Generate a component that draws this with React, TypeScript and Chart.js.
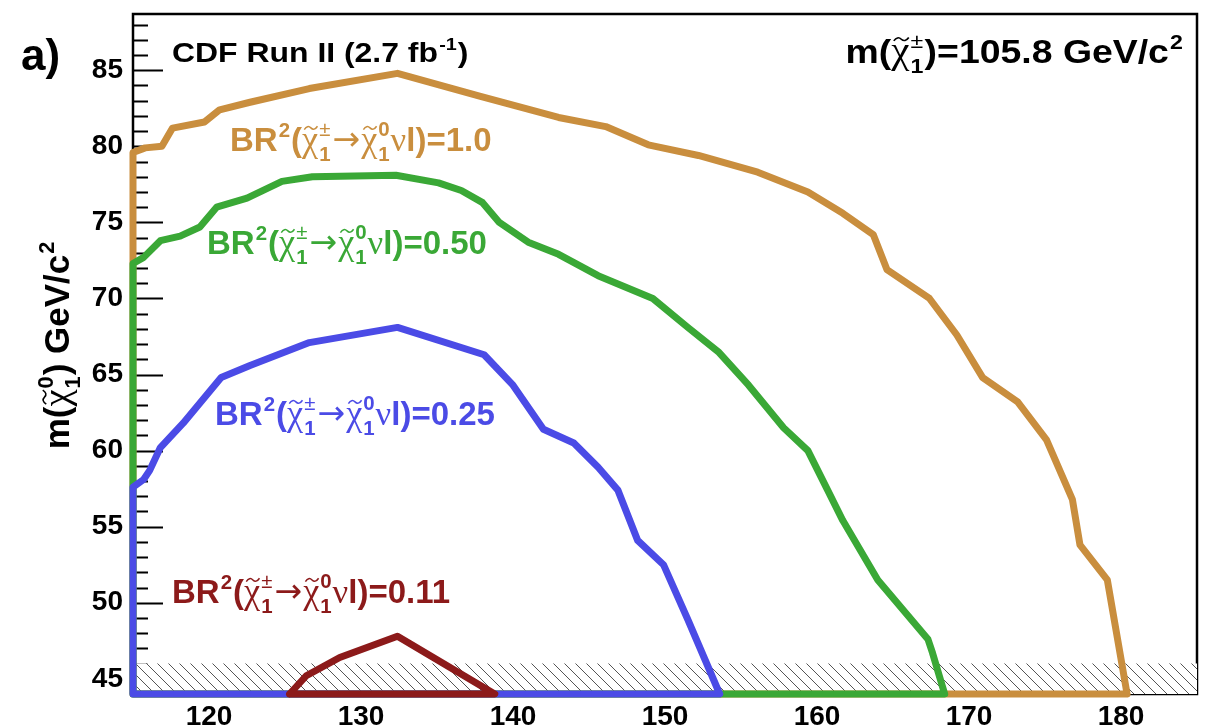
import React, { useEffect, useRef } from 'react';
import { Chart, registerables } from 'chart.js';

Chart.register(...registerables);

// ---- axis ranges and ticks ----
const X_MIN = 115;
const X_MAX = 185;
const Y_MIN = 44;
const Y_MAX = 88.7;
const X_TICKS = [120, 130, 140, 150, 160, 170, 180];
const Y_TICKS = [45, 50, 55, 60, 65, 70, 75, 80, 85];
const HATCH_TOP = 46;

// ---- series: BR^2 = 1.0 (orange) ----
const orangeX = [115, 115, 115.8, 116.9, 117.6, 119.7, 120.7, 122.7, 126.6, 132.4, 137.8, 143.0, 146.1, 148.9, 152.2, 156.1, 159.4, 161.7, 163.7, 164.6, 167.4, 169.2, 170.9, 173.2, 175.1, 176.8, 177.3, 179.1, 180.4, 115];
const orangeY = [44, 79.6, 79.9, 80.0, 81.2, 81.6, 82.4, 82.9, 83.8, 84.8, 83.3, 81.9, 81.3, 80.1, 79.4, 78.3, 77.0, 75.6, 74.2, 71.9, 70.0, 67.6, 64.8, 63.2, 60.7, 56.8, 53.8, 51.5, 44, 44];

// ---- series: BR^2 = 0.50 (green) ----
const greenX = [115, 115, 115.7, 116.8, 118.1, 119.4, 120.5, 122.5, 124.8, 126.8, 132.3, 135.1, 136.6, 138.0, 139.1, 141.0, 143.0, 145.6, 149.2, 151.5, 153.5, 155.5, 157.8, 159.4, 160.7, 161.7, 164.0, 167.3, 167.6, 168.4, 115];
const greenY = [44, 72.3, 72.7, 73.8, 74.1, 74.7, 76.0, 76.6, 77.7, 78.0, 78.1, 77.6, 77.1, 76.3, 75.0, 73.7, 72.9, 71.5, 70.0, 68.1, 66.5, 64.3, 61.5, 60.0, 57.4, 55.4, 51.5, 47.6, 46.7, 44, 44];

// ---- series: BR^2 = 0.25 (blue) ----
const blueX = [115, 115, 115.7, 116.1, 116.8, 118.3, 120.8, 122.7, 126.6, 132.4, 138.1, 140.0, 142.0, 144.0, 145.6, 146.9, 148.2, 149.9, 151.5, 153.6, 115];
const blueY = [44, 57.6, 58.1, 58.7, 60.2, 61.8, 64.8, 65.6, 67.1, 68.1, 66.3, 64.3, 61.4, 60.5, 58.9, 57.4, 54.1, 52.5, 48.9, 44, 44];

// ---- series: BR^2 = 0.11 (dark red) ----
const redX = [125.3, 126.4, 128.6, 132.4, 138.8, 125.3];
const redY = [44, 45.2, 46.4, 47.8, 44, 44];

// ---- excluded band (hatched) ----
const hatchX = [X_MIN, X_MAX];
const hatchY = [HATCH_TOP, HATCH_TOP];

const ORANGE = '#c98e3e';
const GREEN = '#3aa836';
const BLUE = '#4b4be6';
const RED = '#8c1a1a';

const SANS = '"Liberation Sans", Arial, Helvetica, sans-serif';
const SERIF = '"Liberation Serif", "DejaVu Serif", serif';

type Part = { k: 't' | 'sup' | 'chi' | 'g' | 'arrow'; s?: string; sup?: string; sub?: string };

function richRaw(ctx: CanvasRenderingContext2D, parts: Part[], F: number, color: string, draw: boolean): number {
  let x = 0;
  const y0 = 0;
  const sS = F * 0.62;
  ctx.fillStyle = color;
  ctx.strokeStyle = color;
  ctx.textBaseline = 'alphabetic';
  ctx.textAlign = 'left';
  for (const p of parts) {
    if (p.k === 't') {
      ctx.font = `bold ${F}px ${SANS}`;
      if (draw) ctx.fillText(p.s!, x, y0);
      x += ctx.measureText(p.s!).width;
    } else if (p.k === 'sup') {
      ctx.font = `bold ${sS}px ${SANS}`;
      if (draw) ctx.fillText(p.s!, x + 1, y0 - F * 0.42);
      x += ctx.measureText(p.s!).width + 2;
    } else if (p.k === 'g') {
      ctx.font = `${F * 1.05}px ${SERIF}`;
      if (draw) ctx.fillText(p.s!, x, y0);
      x += ctx.measureText(p.s!).width;
    } else if (p.k === 'arrow') {
      ctx.font = `${F}px "DejaVu Sans", ${SANS}`;
      if (draw) ctx.fillText('\u2192', x + 1, y0 - F * 0.02);
      x += ctx.measureText('\u2192').width + 2;
    } else if (p.k === 'chi') {
      ctx.font = `${F * 1.1}px ${SERIF}`;
      const cw = ctx.measureText('\u03c7').width;
      if (draw) {
        ctx.fillText('\u03c7', x, y0);
        const cx = x + cw * 0.55;
        const ty = y0 - F * 0.7;
        const hw = F * 0.2;
        const a = F * 0.05;
        ctx.lineWidth = Math.max(1.2, F * 0.045);
        ctx.beginPath();
        ctx.moveTo(cx - hw, ty + a);
        ctx.quadraticCurveTo(cx - hw / 2, ty - 2 * a, cx, ty);
        ctx.quadraticCurveTo(cx + hw / 2, ty + 2 * a, cx + hw, ty - a);
        ctx.stroke();
      }
      x += cw;
      ctx.font = `bold ${sS}px ${SANS}`;
      const w2 = ctx.measureText(p.sub || '').width;
      ctx.font = `${sS}px ${SANS}`;
      const w1 = ctx.measureText(p.sup || '').width;
      if (draw) {
        ctx.font = p.sup === '\u00b1' ? `${sS}px ${SANS}` : `bold ${sS}px ${SANS}`;
        ctx.fillText(p.sup || '', x + 1, y0 - F * 0.45);
        ctx.font = `bold ${sS}px ${SANS}`;
        ctx.fillText(p.sub || '', x + 1, y0 + F * 0.3);
      }
      x += Math.max(w1, w2) + 2;
    }
  }
  return x;
}

// draws rich text at (x, y) baseline; sx = horizontal stretch
function rich(ctx: CanvasRenderingContext2D, parts: Part[], F: number, x: number, y: number, color: string, sx = 1, align = 'left', rot = 0) {
  ctx.save();
  const w = richRaw(ctx, parts, F, color, false) * sx;
  ctx.translate(x, y);
  if (rot) ctx.rotate(rot);
  let dx = 0;
  if (align === 'right') dx = -w;
  else if (align === 'center') dx = -w / 2;
  ctx.translate(dx, 0);
  ctx.scale(sx, 1);
  richRaw(ctx, parts, F, color, true);
  ctx.restore();
}

function brParts(val: string): Part[] {
  return [
    { k: 't', s: 'BR' },
    { k: 'sup', s: '2' },
    { k: 't', s: '(' },
    { k: 'chi', sup: '\u00b1', sub: '1' },
    { k: 'arrow' },
    { k: 'chi', sup: '0', sub: '1' },
    { k: 'g', s: '\u03bd' },
    { k: 't', s: 'l)=' + val },
  ];
}

const textPlugin = {
  id: 'cdfText',
  beforeDatasetsDraw(chart: any) {
    const { ctx, chartArea: ca, scales } = chart;
    const xs = scales.x;
    const ys = scales.y;
    ctx.save();
    ctx.strokeStyle = '#000';
    ctx.lineWidth = 2;
    ctx.beginPath();
    for (let v = 45; v < Y_MAX; v += 1) {
      const py = Math.round(ys.getPixelForValue(v)) + 0.5;
      const len = v % 5 === 0 ? 30 : 15;
      ctx.moveTo(ca.left, py);
      ctx.lineTo(ca.left + len, py);
    }
    for (let v = 116; v < X_MAX; v += 2) {
      const px = Math.round(xs.getPixelForValue(v)) + 0.5;
      const len = v % 10 === 0 ? 17 : 9;
      ctx.moveTo(px, ca.bottom);
      ctx.lineTo(px, ca.bottom - len);
    }
    ctx.stroke();
    ctx.lineWidth = 2.5;
    ctx.strokeRect(ca.left, ca.top, ca.right - ca.left, ca.bottom - ca.top);
    ctx.restore();
  },
  afterDraw(chart: any) {
    const { ctx } = chart;
    ctx.save();
    ctx.fillStyle = '#000';
    ctx.font = `bold 44px ${SANS}`;
    ctx.textBaseline = 'alphabetic';
    ctx.fillText('a)', 21, 70);
    rich(ctx, [{ k: 't', s: 'CDF Run II (2.7 fb' }, { k: 'sup', s: '-1' }, { k: 't', s: ')' }], 28, 172, 62, '#000', 1.14);
    const massParts: Part[] = [
      { k: 't', s: 'm(' },
      { k: 'chi', sup: '\u00b1', sub: '1' },
      { k: 't', s: ')=105.8 GeV/c' },
      { k: 'sup', s: '2' },
    ];
    rich(ctx, massParts, 34, 1184, 63, '#000', 1.1, 'right');
    rich(ctx, brParts('1.0'), 33, 230, 151, ORANGE);
    rich(ctx, brParts('0.50'), 33, 207, 254, GREEN);
    rich(ctx, brParts('0.25'), 33, 215, 425, BLUE);
    rich(ctx, brParts('0.11'), 33, 172, 603, RED);
    const titleParts: Part[] = [
      { k: 't', s: 'm(' },
      { k: 'chi', sup: '0', sub: '1' },
      { k: 't', s: ') GeV/c' },
      { k: 'sup', s: '2' },
    ];
    rich(ctx, titleParts, 35, 69, 345, '#000', 1, 'center', -Math.PI / 2);
    ctx.restore();
  },
};

function pts(xs: number[], ys: number[]) {
  return xs.map((x, i) => ({ x, y: ys[i] }));
}

function makeHatch(): CanvasPattern | string {
  const c = document.createElement('canvas');
  const s = 11;
  c.width = s;
  c.height = s;
  const g = c.getContext('2d');
  if (!g) return 'rgba(0,0,0,0.1)';
  g.fillStyle = '#ffffff';
  g.fillRect(0, 0, s, s);
  g.strokeStyle = '#555';
  g.lineWidth = 1;
  g.beginPath();
  g.moveTo(-2, -2);
  g.lineTo(s + 2, s + 2);
  g.moveTo(-2, s - 2);
  g.lineTo(2, s + 2);
  g.moveTo(s - 2, -2);
  g.lineTo(s + 2, 2);
  g.stroke();
  const p = g.createPattern(c, 'repeat');
  return p || 'rgba(0,0,0,0.1)';
}

const zeroPad = (s: any) => {
  s.paddingTop = 0;
  s.paddingBottom = 0;
  s.paddingLeft = 0;
  s.paddingRight = 0;
};

export default function App() {
  const ref = useRef<HTMLCanvasElement | null>(null);
  useEffect(() => {
    if (!ref.current) return;
    const line = (data: any, color: string) => ({
      data,
      borderColor: color,
      backgroundColor: color,
      borderWidth: 7,
      pointRadius: 0,
      showLine: true,
      fill: false,
      tension: 0,
      clip: false,
      borderJoinStyle: 'round',
      borderCapStyle: 'round',
    });
    const tickFont = { family: SANS, size: 28, weight: 'bold' as const };
    const chart = new Chart(ref.current, {
      type: 'scatter',
      data: {
        datasets: [
          line(pts(redX, redY), RED),
          line(pts(blueX, blueY), BLUE),
          line(pts(greenX, greenY), GREEN),
          line(pts(orangeX, orangeY), ORANGE),
          {
            data: pts(hatchX, hatchY),
            borderWidth: 0,
            borderColor: 'rgba(0,0,0,0)',
            pointRadius: 0,
            showLine: true,
            fill: { value: Y_MIN },
            backgroundColor: makeHatch(),
          } as any,
        ] as any,
      },
      options: {
        responsive: false,
        animation: false,
        layout: { padding: { top: 14, right: 12, left: 0, bottom: 0 } },
        plugins: { legend: { display: false }, tooltip: { enabled: false } },
        scales: {
          x: {
            type: 'linear',
            min: X_MIN,
            max: X_MAX,
            afterBuildTicks: (s: any) => { s.ticks = X_TICKS.map((v) => ({ value: v })); },
            afterFit: (s: any) => { s.height = 34; zeroPad(s); },
            grid: { display: false, drawTicks: false },
            border: { display: false },
            ticks: { autoSkip: false, maxRotation: 0, color: '#000', font: tickFont, padding: 6 },
          },
          y: {
            type: 'linear',
            min: Y_MIN,
            max: Y_MAX,
            afterBuildTicks: (s: any) => { s.ticks = Y_TICKS.map((v) => ({ value: v })); },
            afterFit: (s: any) => { s.width = 133; zeroPad(s); },
            grid: { display: false, drawTicks: false },
            border: { display: false },
            ticks: { autoSkip: false, color: '#000', font: tickFont, padding: 10 },
          },
        },
      } as any,
      plugins: [textPlugin],
    });
    return () => chart.destroy();
  }, []);
  return (
    <div style={{ position: 'fixed', left: 0, top: 0, width: 1209, height: 728, background: '#fff' }}>
      <canvas ref={ref} width={1209} height={728} style={{ width: 1209, height: 728, display: 'block' }} />
    </div>
  );
}
